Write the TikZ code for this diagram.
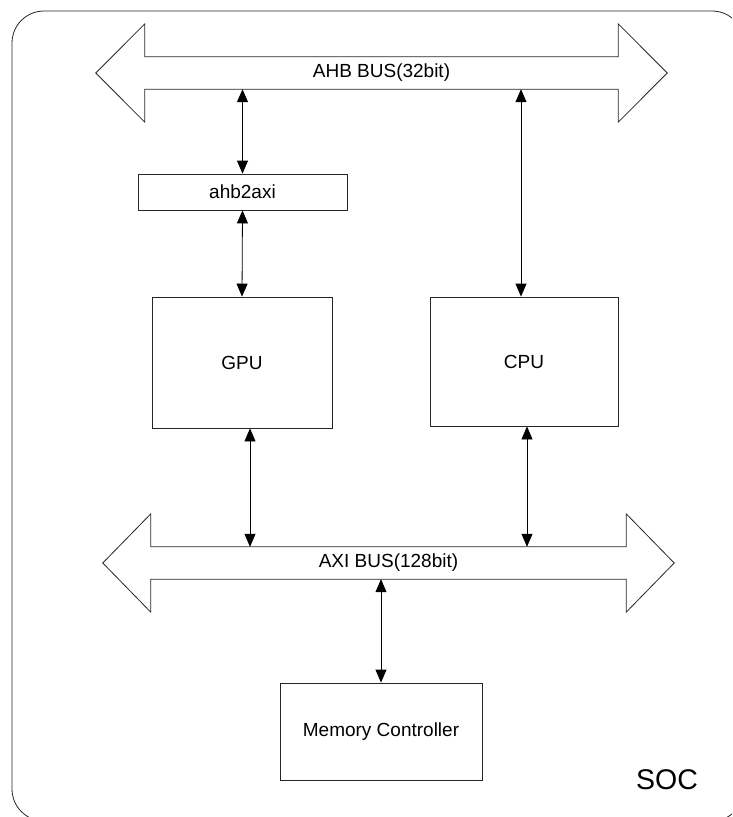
\documentclass[tikz,border=0pt]{standalone}
\usepackage{fontspec}
\setmainfont{Liberation Sans}
\usepackage{tikz}
\usetikzlibrary{positioning,calc,arrows.meta}

\tikzset{
    txt/.style={font=\fontsize{19}{22}\selectfont},
    block/.style={draw=black!85, line width=0.8pt, inner sep=0pt, txt},
    shaft/.style={inner sep=0pt, minimum height=32pt, txt},
    bus/.style={draw=black!85, line width=0.8pt},
    link/.style={{Triangle[length=13pt,width=11pt]}-{Triangle[length=13pt,width=11pt]}, line width=0.8pt}
}

\begin{document}
\begin{tikzpicture}[x=1pt,y=-1pt]
    \clip (0,0) rectangle (732,817);

    % SOC frame
    \draw[bus, rounded corners=32pt] (12,11) rectangle (744,821);
    \node[font=\fontsize{28.5}{32}\selectfont] (soc) at (667,780) {SOC};

    % Buses (shaft only, outline drawn below)
    \node[shaft, minimum width=473pt] (ahb) at (381.5,73) {AHB BUS(32bit)};
    \node[shaft, minimum width=475pt] (axi) at (388.5,563) {AXI BUS(128bit)};
    \foreach \b/\tip in {ahb/49, axi/48} {
        \draw[bus] (\b.north west) -- ($(\b.north west)+(0,-33)$) -- ($(\b.west)+(-\tip,0)$)
            -- ($(\b.south west)+(0,33)$) -- (\b.south west) -- (\b.south east)
            -- ($(\b.south east)+(0,33)$) -- ($(\b.east)+(\tip,0)$)
            -- ($(\b.north east)+(0,-33)$) -- (\b.north east) -- cycle;
    }

    % Blocks
    \node[block, minimum width=209pt, minimum height=36pt] (a2a) at (242.5,192) {ahb2axi};
    \node[block, minimum width=180pt, minimum height=131pt] (gpu) at (242,362.5) {GPU};
    \node[block, minimum width=188pt, minimum height=129pt] (cpu) at (524,361.5) {CPU};
    \node[block, minimum width=202pt, minimum height=97pt] (mem) at (381,731.5) {Memory Controller};

    % Links
    \draw[link] (a2a.north) -- (a2a.north |- ahb.south);
    \draw[link] (a2a.south) -- (gpu.north);
    \draw[link] ([xshift=-3pt]cpu.north) -- ([xshift=-3pt]cpu.north |- ahb.south);
    \draw[link] ([xshift=8pt]gpu.south) -- ([xshift=8pt]gpu.south |- axi.north);
    \draw[link] ([xshift=3pt]cpu.south) -- ([xshift=3pt]cpu.south |- axi.north);
    \draw[link] (axi.south -| mem.north) -- (mem.north);

\end{tikzpicture}
\end{document}
